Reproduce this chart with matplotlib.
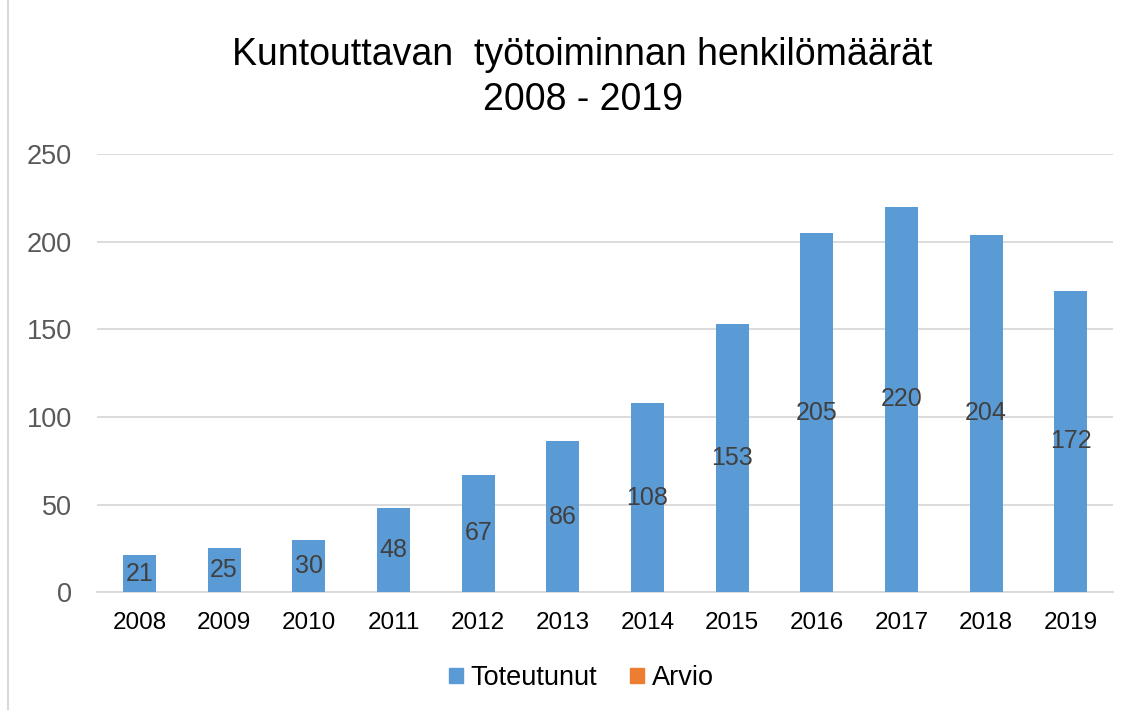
import matplotlib.pyplot as plt
import matplotlib.patches as mpatches
import numpy as np

plt.rcParams['font.family'] = ['Liberation Sans', 'DejaVu Sans']

years = ['2008', '2009', '2010', '2011', '2012', '2013', '2014', '2015', '2016', '2017', '2018', '2019']
toteutunut = [21, 25, 30, 48, 67, 86, 108, 153, 205, 220, 204, 172]
title = 'Kuntouttavan  työtoiminnan henkilömäärät\n2008 - 2019'

blue = '#5B9BD5'
orange = '#ED7D31'

fig = plt.figure(figsize=(11.29, 7.10), dpi=100)
ax = fig.add_axes([0.086, 0.166, 0.9, 0.617])

x = np.arange(len(years))
bars = ax.bar(x, toteutunut, width=0.39, color=blue, zorder=3)
ax.bar_label(bars, labels=[str(v) for v in toteutunut], label_type='center',
             fontsize=18, color='#404040', zorder=4)

ax.set_xlim(-0.5, len(years) - 0.5)
ax.set_ylim(0, 250)
ax.set_yticks(range(0, 251, 50))
ax.set_xticks(x)
ax.set_xticklabels(years)
ax.tick_params(axis='both', length=0, colors='#595959')
ax.tick_params(axis='x', pad=14, labelsize=17.5, colors='#000000')
ax.tick_params(axis='y', pad=18, labelsize=19.5)
ax.grid(axis='y', color='#D9D9D9', linewidth=1.3, zorder=0)
for s in ['top', 'right', 'left']:
    ax.spines[s].set_visible(False)
ax.spines['bottom'].set_color('#D9D9D9')
ax.spines['bottom'].set_linewidth(1.3)

fig.text(0.516, 0.891, title, ha='center', va='center', fontsize=27, linespacing=1.3)

handles = [mpatches.Patch(color=blue, label='Toteutunut'),
           mpatches.Patch(color=orange, label='Arvio')]
fig.legend(handles=handles, loc='center', bbox_to_anchor=(0.515, 0.045), ncol=2,
           frameon=False, fontsize=19.5, handlelength=0.5, handleheight=0.5,
           handletextpad=0.3, columnspacing=1.2)

# thin frame line on the left like the original chart area border
fig.add_artist(plt.Line2D([0.007, 0.007], [0, 1], color='#D9D9D9', linewidth=1.5))

fig.savefig('out.png', dpi=100)
